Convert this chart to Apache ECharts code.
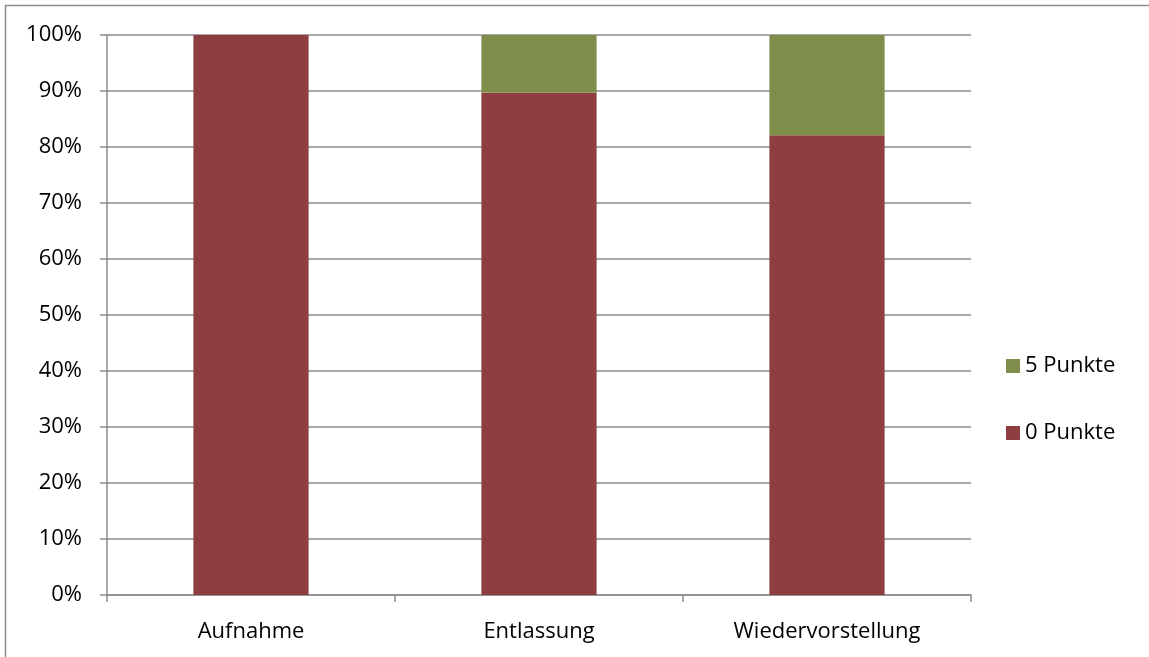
<!DOCTYPE html>
<html>
<head>
<meta charset="utf-8">
<script src="https://cdn.jsdelivr.net/npm/echarts@6/dist/echarts.min.js"></script>
<style>
  html, body { margin: 0; padding: 0; background: #fff; }
  #chart { width: 1149px; height: 657px; }
</style>
</head>
<body>
<div id="chart"></div>
<script>
// Share of patients per score, at each time point (percent)
const categories = ['Aufnahme', 'Entlassung', 'Wiedervorstellung'];
const punkte0 = [100, 89.7, 82.1];
const punkte5 = [0, 10.3, 17.9];
const seriesNames = ['0 Punkte', '5 Punkte'];

const FONT = '"Open Sans", "Noto Sans", sans-serif';
const FONT_SIZE = 22;
const AXIS_GRAY = '#8c8c8c';

const chart = echarts.init(document.getElementById('chart'), null, { renderer: 'canvas' });

chart.setOption({
  animation: false,
  backgroundColor: '#ffffff',
  grid: { left: 107, right: 178, top: 35, bottom: 62, containLabel: false },
  legend: {
    orient: 'vertical',
    left: 1006,
    top: 355,
    padding: 0,
    itemWidth: 14,
    itemHeight: 14,
    itemGap: 45,
    icon: 'rect',
    data: [seriesNames[1], seriesNames[0]],
    textStyle: { fontFamily: FONT, fontSize: FONT_SIZE, lineHeight: 22, color: '#000' }
  },
  xAxis: {
    type: 'category',
    data: categories,
    axisLine: { lineStyle: { color: AXIS_GRAY, width: 1.5 } },
    axisTick: { show: true, length: 7, lineStyle: { color: AXIS_GRAY, width: 1.5 } },
    axisLabel: { margin: 26, fontFamily: FONT, fontSize: FONT_SIZE, color: '#000' },
    splitLine: { show: false }
  },
  yAxis: {
    type: 'value',
    min: 0,
    max: 100,
    interval: 10,
    axisLine: { show: true, lineStyle: { color: AXIS_GRAY, width: 1.5 } },
    axisTick: { show: true, length: 7, lineStyle: { color: AXIS_GRAY, width: 1.5 } },
    axisLabel: { margin: 25, fontFamily: FONT, fontSize: FONT_SIZE, color: '#000', formatter: '{value}%' },
    splitLine: { show: true, lineStyle: { color: AXIS_GRAY, width: 1.5 } }
  },
  series: [
    {
      name: seriesNames[0],
      type: 'bar',
      stack: 'total',
      data: punkte0,
      barWidth: '40%',
      itemStyle: { color: '#8e3d40' }
    },
    {
      name: seriesNames[1],
      type: 'bar',
      stack: 'total',
      data: punkte5,
      barWidth: '40%',
      itemStyle: { color: '#7f8f4b' }
    }
  ],
  graphic: [
    // frame lines along the top and left edge
    { type: 'line', shape: { x1: 5, y1: 5.5, x2: 1149, y2: 5.5 }, style: { stroke: '#8c8c8c', lineWidth: 1.5 }, silent: true },
    { type: 'line', shape: { x1: 5.5, y1: 5, x2: 5.5, y2: 657 }, style: { stroke: '#8c8c8c', lineWidth: 1.5 }, silent: true }
  ]
});
</script>
</body>
</html>
